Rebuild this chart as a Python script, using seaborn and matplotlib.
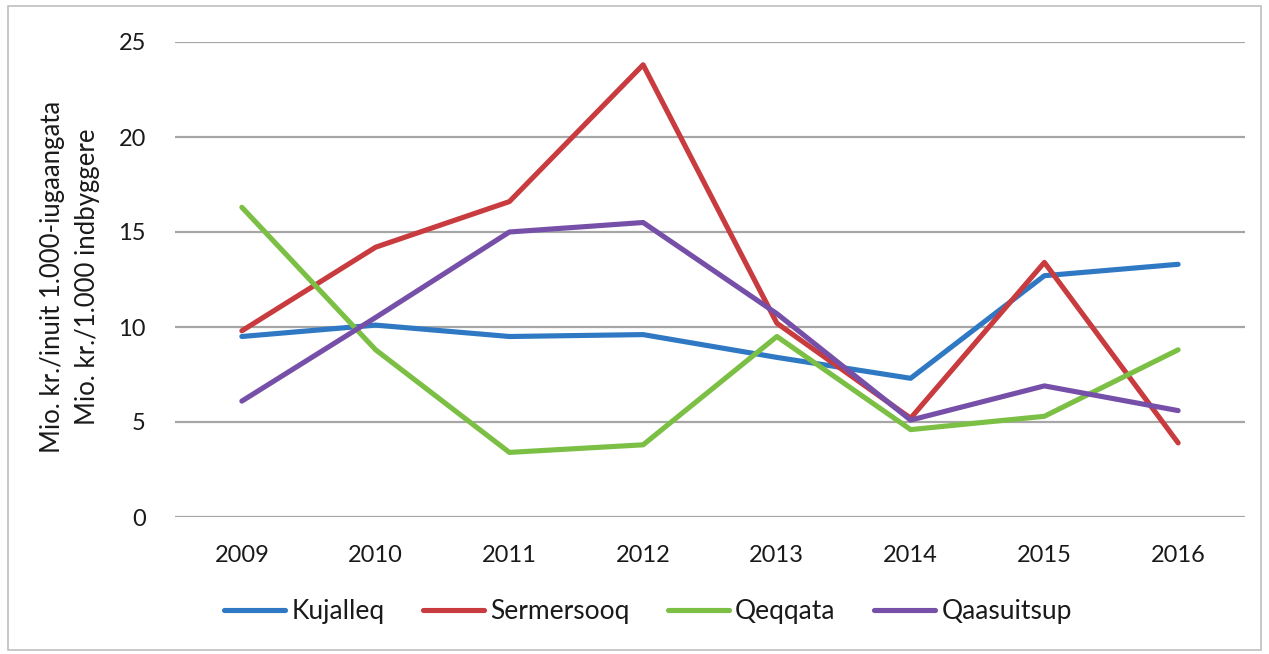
import matplotlib
matplotlib.use("Agg")
import matplotlib.pyplot as plt
import pandas as pd
import seaborn as sns

# values
years = ["2009", "2010", "2011", "2012", "2013", "2014", "2015", "2016"]
kujalleq = [9.5, 10.1, 9.5, 9.6, 8.4, 7.3, 12.7, 13.3]
sermersooq = [9.8, 14.2, 16.6, 23.8, 10.2, 5.2, 13.4, 3.9]
qeqqata = [16.3, 8.8, 3.4, 3.8, 9.5, 4.6, 5.3, 8.8]
qaasuitsup = [6.1, 10.5, 15.0, 15.5, 10.7, 5.1, 6.9, 5.6]

regions = ["Kujalleq", "Sermersooq", "Qeqqata", "Qaasuitsup"]
colors = ["#2f78c4", "#c83b3f", "#7cbf45", "#7650a8"]

df = pd.DataFrame({
    "year": years * 4,
    "value": kujalleq + sermersooq + qeqqata + qaasuitsup,
    "region": [r for r in regions for _ in years],
})

sns.set_theme(style="white")
plt.rcParams["font.family"] = ["Lato", "DejaVu Sans"]

fig = plt.figure(figsize=(12.69, 6.54), dpi=100)
ax = fig.add_axes([175 / 1269, 1 - 517 / 654, (1245 - 175) / 1269, (517 - 42) / 654])

sns.lineplot(data=df, x="year", y="value", hue="region", palette=colors,
             linewidth=3.7, ax=ax, legend=False, sort=False)

ax.set_xlim(-0.5, 7.5)
ax.set_ylim(0, 25)
ax.set_yticks([0, 5, 10, 15, 20, 25])
ax.yaxis.grid(True, color="#a6a6a6", linewidth=1.6)
ax.set_axisbelow(True)
for s in ax.spines.values():
    s.set_visible(False)
ax.tick_params(axis="y", length=0, pad=21, labelsize=17, labelcolor="#1a1a1a")
ax.tick_params(axis="x", length=0, pad=20, labelsize=17, labelcolor="#1a1a1a")
ax.set_xlabel("")
ax.set_ylabel("")

fig.text(70 / 1269, 1 - 277 / 654,
         "Mio. kr./inuit 1.000-iugaangata\nMio. kr./1.000 indbyggere",
         rotation=90, ha="center", va="center", multialignment="center",
         fontsize=18.5, color="#1a1a1a", linespacing=1.5)

handles = [plt.Line2D([], [], color=c, linewidth=3.7) for c in colors]
fig.legend(handles, regions, loc="center", bbox_to_anchor=(648 / 1269, 1 - 612 / 654),
           ncol=4, frameon=False, fontsize=19, handlelength=2.3, handletextpad=0.25,
           columnspacing=1.45, labelcolor="#1a1a1a")

# thin grey frame around the whole picture
fig.patches.append(plt.Rectangle((0.006, 0.006), 0.988, 0.985, transform=fig.transFigure,
                                 fill=False, edgecolor="#bfbfbf", linewidth=1.2))

fig.savefig("out.png", dpi=100)
